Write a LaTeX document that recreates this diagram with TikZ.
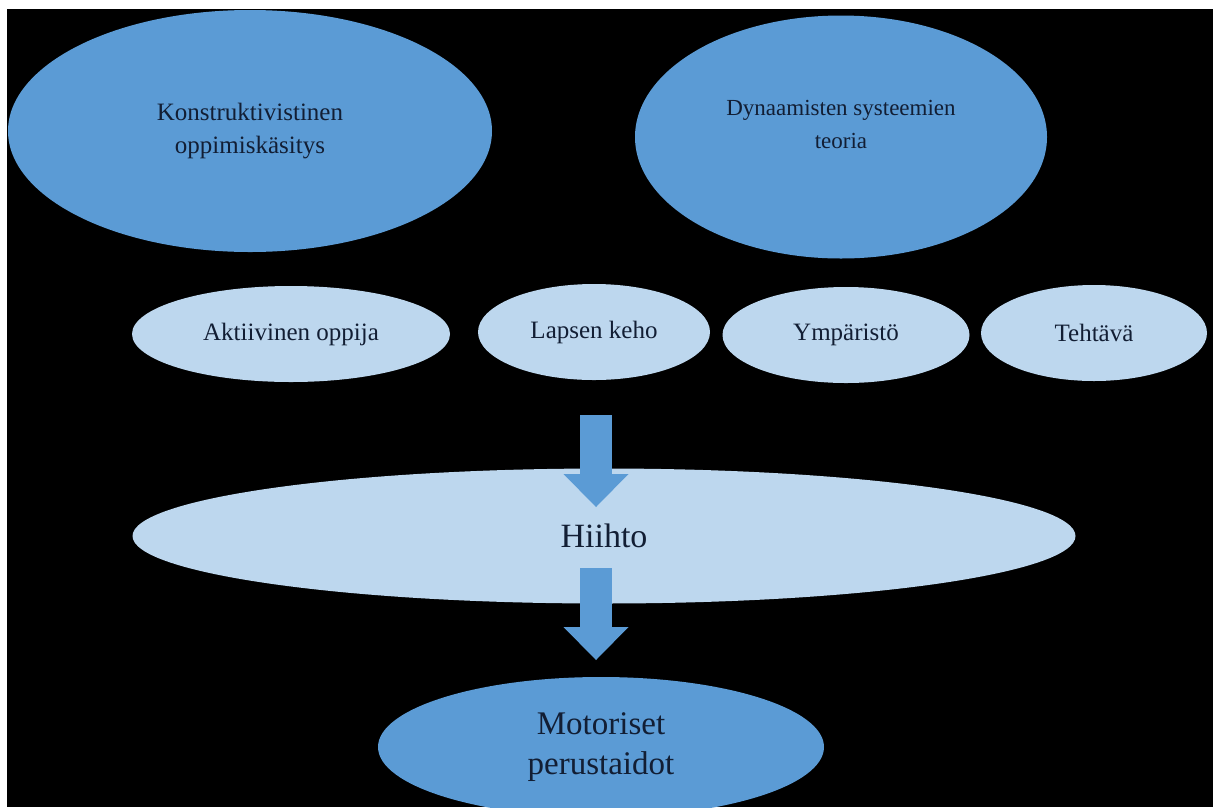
\documentclass[tikz,border=0pt]{standalone}
\usepackage{fontspec}
\setmainfont{Liberation Serif}
\usetikzlibrary{arrows.meta,positioning,shapes.geometric}

\definecolor{ovaldark}{RGB}{91,155,213}
\definecolor{ovallight}{RGB}{189,215,238}
\definecolor{ovaltext}{RGB}{18,30,52}

\begin{document}
\begin{tikzpicture}[x=1pt,y=-1pt,
  oval/.style={ellipse,inner sep=0pt,text=ovaltext,align=center},
  bigoval/.style={oval,fill=ovaldark},
  smalloval/.style={oval,fill=ovallight,minimum height=96pt,font=\fontsize{25}{30}\selectfont},
  blockarrow/.style={ovaldark,line width=32pt,
    -{Triangle[length=33pt,width=65pt,line width=0pt]}}
]

  % background
  \useasboundingbox (0,0) rectangle (1213,807);
  \fill[white] (0,0) rectangle (1213,807);
  \clip (0,0) rectangle (1213,807);
  \fill[black] (7,9) rectangle (1213,807);

  % theories
  \node[bigoval,minimum width=484pt,minimum height=242pt,
    font=\fontsize{25}{33}\selectfont] (konstr) at (250,131)
    {Konstruktivistinen\\oppimiskäsitys};
  \node[bigoval,minimum width=412pt,minimum height=243pt] (dynam) at (841,137) {};
  \node[oval,font=\fontsize{23}{33}\selectfont] (dynamtext)
    at ([yshift=13pt]dynam.center) {Dynaamisten systeemien\\teoria};

  % factors
  \node[smalloval,minimum width=318pt] (aktiiv) at (291,334) {Aktiivinen oppija};
  \node[smalloval,minimum width=232pt] (lapsen) at (594,332) {Lapsen keho};
  \node[smalloval,minimum width=247pt] (ympar) at (846,335) {Ympäristö};
  \node[smalloval,minimum width=226pt] (tehtava) at (1094,333) {Tehtävä};

  % skiing
  \node[oval,fill=ovallight,minimum width=943pt,minimum height=135pt,
    font=\fontsize{34}{40}\selectfont] (hiihto) at (604,536) {Hiihto};

  % motor skills
  \node[bigoval,minimum width=446pt,minimum height=140pt,
    font=\fontsize{33}{40}\selectfont] (motor) at (601,747)
    {Motoriset\\perustaidot};

  % block arrows
  \coordinate (arrAtop) at (596,415);
  \coordinate (arrAtip) at (596,507);
  \coordinate (arrBtop) at (596,568);
  \coordinate (arrBtip) at (596,660);
  \draw[blockarrow] (arrAtop) -- (arrAtip);
  \draw[blockarrow] (arrBtop) -- (arrBtip);

\end{tikzpicture}
\end{document}
